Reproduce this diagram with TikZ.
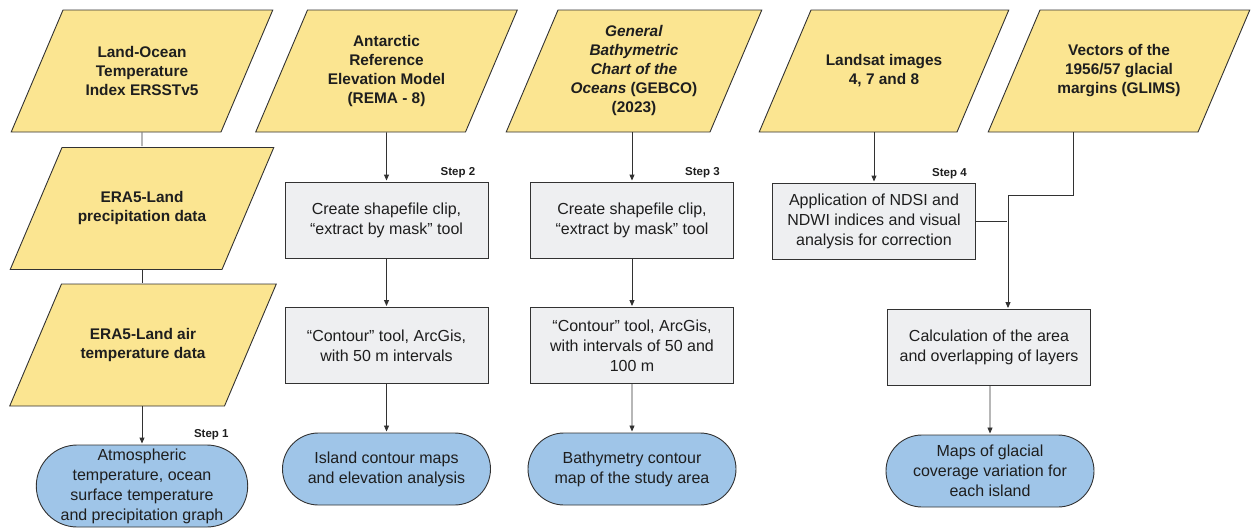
\documentclass[tikz,border=0pt]{standalone}
\usepackage{fontspec}
\setmainfont{Liberation Sans}
\usetikzlibrary{arrows.meta,shapes.geometric,shapes.misc}
\definecolor{dataYellow}{RGB}{251,229,145}
\definecolor{procGray}{RGB}{238,239,241}
\definecolor{resBlue}{RGB}{159,197,232}
\definecolor{lineGray}{RGB}{50,50,50}
\definecolor{textDark}{RGB}{30,30,30}
\newcommand{\databody}[2][158pt]{\parbox[c][122pt][c]{#1}{\centering #2}}

\begin{document}
\begin{tikzpicture}[x=1pt,y=-1pt,->,>={Triangle[length=6pt,width=5pt]},shorten >=1pt,text=textDark]
\tikzstyle{data}=[trapezium,trapezium left angle=67,trapezium right angle=113,inner sep=0pt,fill=dataYellow,draw=lineGray,line width=0.9pt,font=\bfseries\fontsize{15.4}{19}\selectfont]
\tikzstyle{proc}=[rectangle,minimum width=203pt,minimum height=76pt,inner sep=0pt,fill=procGray,draw=lineGray,line width=0.9pt,align=center,font=\fontsize{16}{20}\selectfont]
\tikzstyle{result}=[rounded rectangle,minimum width=208pt,minimum height=72pt,inner sep=0pt,fill=resBlue,draw=lineGray,line width=0.9pt,align=center,font=\fontsize{16}{20}\selectfont]
\tikzstyle{stepnote}=[anchor=south east,inner sep=1pt,font=\bfseries\fontsize{11.5}{13}\selectfont]
\tikzstyle{link}=[draw=lineGray,line width=0.9pt]
\useasboundingbox (0,0) rectangle (1253,530);

\node[data] (ERSST) at (142,71)    {\databody{Land-Ocean\\Temperature\\Index ERSSTv5}};
\node[data] (PREC)  at (142,208.5) {\databody[160pt]{ERA5-Land\\precipitation data}};
\node[data] (AIRT)  at (143,345)   {\databody[163pt]{ERA5-Land air\\temperature data}};
\node[data] (REMA)  at (386.5,71)  {\databody{Antarctic\\Reference\\Elevation Model\\(REMA - 8)}};
\node[data] (GEBCO) at (634,71)    {\databody[152pt]{\textit{General}\\\textit{Bathymetric}\\\textit{Chart of the}\\\textit{Oceans} (GEBCO)\\(2023)}};
\node[data] (LAND)  at (884,71)    {\databody[146pt]{Landsat images\\4, 7 and 8}};
\node[data] (GLIMS) at (1119,71)   {\databody{Vectors of the\\1956/57 glacial\\margins (GLIMS)}};

\node[proc] (CLIPA) at (386.5,220)   {Create shapefile clip,\\“extract by mask” tool};
\node[proc] (CONTA) at (386.5,345.5) {“Contour” tool, ArcGis,\\with 50 m intervals};
\node[proc] (CLIPB) at (632,220)     {Create shapefile clip,\\“extract by mask” tool};
\node[proc] (CONTB) at (632,345.5)   {“Contour” tool, ArcGis,\\with intervals of 50 and\\100 m};
\node[proc] (NDSI)  at (874,221)     {Application of NDSI and\\NDWI indices and visual\\analysis for correction};
\node[proc] (AREA)  at (989,347.5)   {Calculation of the area\\and overlapping of layers};

\node[result,minimum width=210pt,minimum height=82pt] (OUTA) at (142,486) {Atmospheric\\temperature, ocean\\surface temperature\\and precipitation graph};
\node[result] (OUTB) at (386.5,469) {Island contour maps\\and elevation analysis};
\node[result] (OUTC) at (632,469)   {Bathymetry contour\\map of the study area};
\node[result] (OUTD) at (990,471)   {Maps of glacial\\coverage variation for\\each island};

\node[stepnote,xshift=23pt,yshift=3pt] at (OUTA.north east) {Step 1};
\node[stepnote,xshift=-12pt,yshift=2pt] at (CLIPA.north east) {Step 2};
\node[stepnote,xshift=-13pt,yshift=2pt] at (CLIPB.north east) {Step 3};
\node[stepnote,xshift=-8pt,yshift=2pt] at (NDSI.north east) {Step 4};

\coordinate (bend) at (1073,195);
\coordinate (join) at (1008,221);

\draw[link,-] (ERSST) -- (PREC);
\draw[link,-] (PREC.south -| ERSST) -- (AIRT.north -| ERSST);
\draw[link] (AIRT.south -| ERSST) -- (OUTA.north -| ERSST);
\draw[link] (REMA) -- (CLIPA);
\draw[link] (CLIPA) -- (CONTA);
\draw[link] (CONTA) -- (OUTB);
\draw[link] (GEBCO.south -| CLIPB) -- (CLIPB);
\draw[link] (CLIPB) -- (CONTB);
\draw[link] (CONTB) -- (OUTC);
\draw[link] (LAND.south -| NDSI) -- (NDSI);
\draw[link] (GLIMS.south -| bend) |- (join |- bend) -- (join |- AREA.north);
\draw[link,-] (NDSI.east) -- (NDSI.east -| join);
\draw[link] (AREA.south -| OUTD) -- (OUTD);
\end{tikzpicture}
\end{document}
